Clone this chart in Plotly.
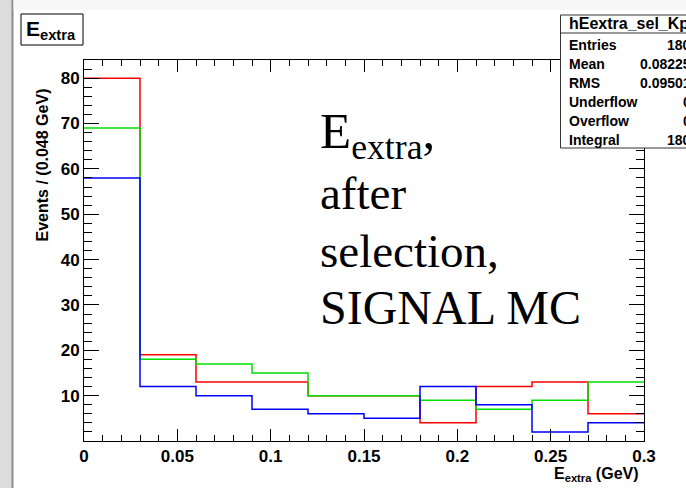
import plotly.graph_objects as go

# ---- data ----
bin_edges = [0.0, 0.03, 0.06, 0.09, 0.12, 0.15, 0.18, 0.21, 0.24, 0.27, 0.30]
red_counts = [80, 19, 13, 13, 10, 10, 4, 12, 13, 6]
green_counts = [69, 18, 17, 15, 10, 10, 9, 7, 9, 13]
blue_counts = [58, 12, 10, 7, 6, 5, 12, 8, 2, 4]
series = [("red", "#ff0000", red_counts), ("green", "#00e000", green_counts), ("blue", "#0000ff", blue_counts)]
y_tickvals = [0, 10, 20, 30, 40, 50, 60, 70, 80]
y_ticktext = ["", "10", "20", "30", "40", "50", "60", "70", "80"]
stats_labels = ["Entries", "Mean", "RMS", "Underflow", "Overflow", "Integral"]
stats_values = ["180", "0.08225", "0.09501", "0", "0", "180"]
big_lines = ["E<sub>extra</sub>,", "after", "selection,", "SIGNAL MC"]

W, H = 686, 488
L, R, T, B = 84, 644, 60, 441


def px(x):
    return (x - L) / (R - L)


def py(y):
    return (B - y) / (B - T)


fig = go.Figure()
for name, col, counts in series:
    fig.add_trace(go.Scatter(
        x=bin_edges, y=counts + [counts[-1]], mode="lines", line_shape="hv",
        line=dict(color=col, width=1.5), name=name, showlegend=False, hoverinfo="skip"))

tickfont = dict(family="Liberation Sans, Arial, sans-serif", size=17, color="black", weight="bold")

fig.update_layout(
    width=W, height=H,
    margin=dict(l=L, r=W - R, t=T, b=H - B),
    paper_bgcolor="white", plot_bgcolor="white",
    xaxis=dict(range=[0, 0.3], dtick=0.05, tick0=0, ticks="inside", ticklen=12, tickwidth=1,
               tickcolor="black", showline=True, linecolor="black", linewidth=1, mirror="ticks",
               showgrid=False, zeroline=False, tickfont=tickfont,
               minor=dict(dtick=0.01, ticks="inside", ticklen=6, tickcolor="black", showgrid=False)),
    yaxis=dict(range=[0, 84], tickmode="array", tickvals=y_tickvals, ticktext=y_ticktext,
               ticks="inside", ticklen=15, tickwidth=1, tickcolor="black", showline=True,
               linecolor="black", linewidth=1, mirror="ticks", showgrid=False, zeroline=False,
               tickfont=tickfont,
               minor=dict(tickmode="linear", tick0=0, dtick=2, ticks="inside", ticklen=8,
                          tickcolor="black", showgrid=False)),
)

shapes = []
# slide background strips
shapes.append(dict(type="rect", xref="paper", yref="paper", x0=px(0), x1=px(12), y0=py(H), y1=py(0),
                   fillcolor="#dcdcdc", line=dict(width=0), layer="below"))
shapes.append(dict(type="line", xref="paper", yref="paper", x0=px(12.5), x1=px(12.5), y0=py(H), y1=py(0),
                   line=dict(color="#8a8a8a", width=2), layer="below"))
shapes.append(dict(type="rect", xref="paper", yref="paper", x0=px(13.5), x1=px(W), y0=py(10), y1=py(0),
                   fillcolor="#f7f7f7", line=dict(width=0), layer="below"))
# title box
shapes.append(dict(type="rect", xref="paper", yref="paper", x0=px(21), x1=px(83), y0=py(45), y1=py(14),
                   fillcolor="white", line=dict(color="black", width=1), layer="above"))
# stats box
shapes.append(dict(type="rect", xref="paper", yref="paper", x0=px(560.5), x1=px(720), y0=py(148), y1=py(15),
                   fillcolor="white", line=dict(color="#333333", width=1), layer="above"))
shapes.append(dict(type="line", xref="paper", yref="paper", x0=px(560.5), x1=px(720), y0=py(33), y1=py(33),
                   line=dict(color="#333333", width=1), layer="above"))
fig.update_layout(shapes=shapes)

bold = dict(family="Liberation Sans, Arial, sans-serif", color="black", weight="bold")
ann = []
ann.append(dict(text="E<sub>extra</sub>", x=px(24), y=py(30), xref="paper", yref="paper",
                xanchor="left", yanchor="middle", showarrow=False, font=dict(size=21, **bold)))
ann.append(dict(text="hEextra_sel_KpiPi0", x=px(567), y=py(24), xref="paper", yref="paper",
                xanchor="left", yanchor="middle", showarrow=False, font=dict(size=16, **bold)))
row_y = [45, 64, 83.5, 102, 121, 140]
for lab, val, yy in zip(stats_labels, stats_values, row_y):
    ann.append(dict(text=lab, x=px(567), y=py(yy), xref="paper", yref="paper",
                    xanchor="left", yanchor="middle", showarrow=False, font=dict(size=14, **bold)))
    ann.append(dict(text=val, x=px(693), y=py(yy), xref="paper", yref="paper",
                    xanchor="right", yanchor="middle", showarrow=False, font=dict(size=14, **bold)))
# axis titles
ann.append(dict(text="Events / (0.048 GeV)", x=px(42), y=py(87), xref="paper", yref="paper",
                xanchor="center", yanchor="top", textangle=-90, showarrow=False, font=dict(size=16, **bold)))
ann.append(dict(text="E<sub>extra</sub> (GeV)", x=px(641), y=py(474), xref="paper", yref="paper",
                xanchor="right", yanchor="middle", showarrow=False, font=dict(size=16, **bold)))
# big slide text
serif = dict(family="Liberation Serif, Times New Roman, serif", color="black")
line_specs = [(150, 51), (207, 47), (265, 47), (322, 48)]
for txt, (base, sz) in zip(big_lines, line_specs):
    ann.append(dict(text=txt, x=px(318), y=py(base - 0.3 * sz), xref="paper", yref="paper",
                    xanchor="left", yanchor="middle", showarrow=False, font=dict(size=sz, **serif)))
fig.update_layout(annotations=ann)

fig.write_html("out.html")
